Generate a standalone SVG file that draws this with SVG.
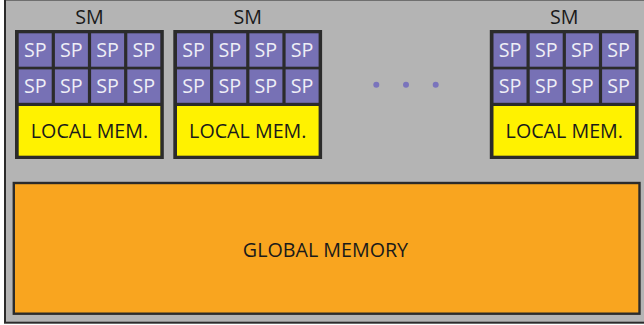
<svg xmlns="http://www.w3.org/2000/svg" width="644" height="325" viewBox="0 0 644 325">
  <style>
    .frame { fill: #b4b4b4; stroke: #2b2b2b; stroke-width: 2; }
    .smbox { fill: #2b2b2b; }
    .sp { fill: #7771b5; }
    .mem { fill: #fff200; }
    .global { fill: #f9a51f; stroke: #2b2b2b; stroke-width: 2.4; }
    .dot { fill: #7a74bc; }
    text { font-family: "Open Sans", "Noto Sans", "DejaVu Sans", sans-serif; font-size: 19.7px; text-anchor: middle; }
    .lbl { fill: #1a1a1a; }
    .spt { fill: #eeeef6; }
  </style>

  <!-- device frame -->
  <rect class="frame" x="5" y="-0.5" width="660" height="323.2"/>

  <!-- streaming multiprocessor 1 -->
  <g id="sm1" transform="translate(15,0)">
    <text class="lbl" x="74.4" y="24.2">SM</text>
    <rect class="smbox" x="0" y="30" width="148.8" height="129"/>
    <rect class="sp" x="3.7" y="33.3" width="33" height="33.4"/>
    <rect class="sp" x="39.9" y="33.3" width="33" height="33.4"/>
    <rect class="sp" x="76.1" y="33.3" width="33" height="33.4"/>
    <rect class="sp" x="112.3" y="33.3" width="33" height="33.4"/>
    <rect class="sp" x="3.7" y="69.4" width="33" height="33.4"/>
    <rect class="sp" x="39.9" y="69.4" width="33" height="33.4"/>
    <rect class="sp" x="76.1" y="69.4" width="33" height="33.4"/>
    <rect class="sp" x="112.3" y="69.4" width="33" height="33.4"/>
    <text class="spt" x="20.2" y="57.3">SP</text>
    <text class="spt" x="56.4" y="57.3">SP</text>
    <text class="spt" x="92.6" y="57.3">SP</text>
    <text class="spt" x="128.8" y="57.3">SP</text>
    <text class="spt" x="20.2" y="93.3">SP</text>
    <text class="spt" x="56.4" y="93.3">SP</text>
    <text class="spt" x="92.6" y="93.3">SP</text>
    <text class="spt" x="128.8" y="93.3">SP</text>
    <rect class="mem" x="3.7" y="106" width="141.6" height="49.7"/>
    <text class="lbl" x="74.5" y="137.7">LOCAL MEM.</text>
  </g>

  <!-- streaming multiprocessor 2 -->
  <g id="sm2" transform="translate(173.3,0)">
    <text class="lbl" x="74.4" y="24.2">SM</text>
    <rect class="smbox" x="0" y="30" width="148.8" height="129"/>
    <rect class="sp" x="3.7" y="33.3" width="33" height="33.4"/>
    <rect class="sp" x="39.9" y="33.3" width="33" height="33.4"/>
    <rect class="sp" x="76.1" y="33.3" width="33" height="33.4"/>
    <rect class="sp" x="112.3" y="33.3" width="33" height="33.4"/>
    <rect class="sp" x="3.7" y="69.4" width="33" height="33.4"/>
    <rect class="sp" x="39.9" y="69.4" width="33" height="33.4"/>
    <rect class="sp" x="76.1" y="69.4" width="33" height="33.4"/>
    <rect class="sp" x="112.3" y="69.4" width="33" height="33.4"/>
    <text class="spt" x="20.2" y="57.3">SP</text>
    <text class="spt" x="56.4" y="57.3">SP</text>
    <text class="spt" x="92.6" y="57.3">SP</text>
    <text class="spt" x="128.8" y="57.3">SP</text>
    <text class="spt" x="20.2" y="93.3">SP</text>
    <text class="spt" x="56.4" y="93.3">SP</text>
    <text class="spt" x="92.6" y="93.3">SP</text>
    <text class="spt" x="128.8" y="93.3">SP</text>
    <rect class="mem" x="3.7" y="106" width="141.6" height="49.7"/>
    <text class="lbl" x="74.5" y="137.7">LOCAL MEM.</text>
  </g>

  <!-- ellipsis between multiprocessors -->
  <g id="ellipsis">
    <circle class="dot" cx="376.3" cy="84.7" r="3"/>
    <circle class="dot" cx="406" cy="84.7" r="3"/>
    <circle class="dot" cx="435.7" cy="84.7" r="3"/>
  </g>

  <!-- streaming multiprocessor N -->
  <g id="smN" transform="translate(489.8,0)">
    <text class="lbl" x="74.4" y="24.2">SM</text>
    <rect class="smbox" x="0" y="30" width="148.8" height="129"/>
    <rect class="sp" x="3.7" y="33.3" width="33" height="33.4"/>
    <rect class="sp" x="39.9" y="33.3" width="33" height="33.4"/>
    <rect class="sp" x="76.1" y="33.3" width="33" height="33.4"/>
    <rect class="sp" x="112.3" y="33.3" width="33" height="33.4"/>
    <rect class="sp" x="3.7" y="69.4" width="33" height="33.4"/>
    <rect class="sp" x="39.9" y="69.4" width="33" height="33.4"/>
    <rect class="sp" x="76.1" y="69.4" width="33" height="33.4"/>
    <rect class="sp" x="112.3" y="69.4" width="33" height="33.4"/>
    <text class="spt" x="20.2" y="57.3">SP</text>
    <text class="spt" x="56.4" y="57.3">SP</text>
    <text class="spt" x="92.6" y="57.3">SP</text>
    <text class="spt" x="128.8" y="57.3">SP</text>
    <text class="spt" x="20.2" y="93.3">SP</text>
    <text class="spt" x="56.4" y="93.3">SP</text>
    <text class="spt" x="92.6" y="93.3">SP</text>
    <text class="spt" x="128.8" y="93.3">SP</text>
    <rect class="mem" x="3.7" y="106" width="141.6" height="49.7"/>
    <text class="lbl" x="74.5" y="137.7">LOCAL MEM.</text>
  </g>

  <!-- shared global memory -->
  <g id="global-memory">
    <rect class="global" x="13.8" y="183" width="625.7" height="130.7"/>
    <text class="lbl" x="325.5" y="256.7">GLOBAL MEMORY</text>
  </g>

  <!-- no connectors in this diagram -->
  <g id="connectors"/>
</svg>
